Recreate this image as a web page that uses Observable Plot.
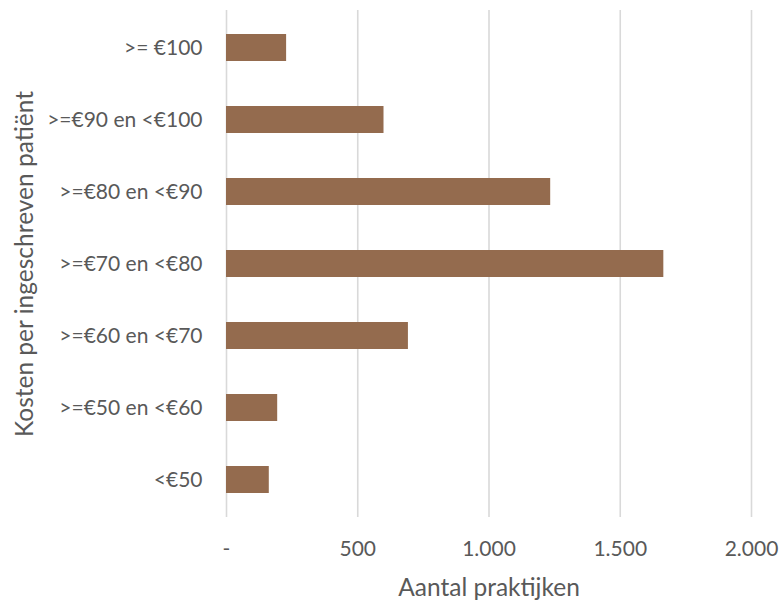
<!DOCTYPE html>
<html>
<head>
<meta charset="utf-8">
<script src="https://cdn.jsdelivr.net/npm/d3@7"></script>
<script src="https://cdn.jsdelivr.net/npm/@observablehq/plot@0.6"></script>
<style>
  html, body { margin: 0; padding: 0; background: #ffffff; }
  #chart { width: 780px; height: 600px; }
</style>
</head>
<body>
<div id="chart"></div>
<script>
const categories = [">= €100", ">=€90 en <€100", ">=€80 en <€90", ">=€70 en <€80", ">=€60 en <€70", ">=€50 en <€60", "<€50"];
const values = [229, 600, 1235, 1666, 693, 195, 163];
const xTicks = [0, 500, 1000, 1500, 2000];
const xTickLabels = ["-", "500", "1.000", "1.500", "2.000"];
const xTitle = "Aantal praktijken";
const yTitle = "Kosten per ingeschreven patiënt";

const data = categories.map((c, i) => ({category: c, value: values[i]}));

const chart = Plot.plot({
  width: 780,
  height: 600,
  marginLeft: 226,
  marginRight: 29,
  marginTop: 10,
  marginBottom: 83,
  style: {fontFamily: "Lato, sans-serif", fontSize: "21px", color: "#595959", background: "#ffffff"},
  x: {domain: [0, 2000]},
  y: {domain: categories, paddingInner: 0.62, paddingOuter: 0.31},
  marks: [
    Plot.gridX(xTicks, {stroke: "#d9d9d9", strokeOpacity: 1, strokeWidth: 1.6}),
    Plot.barX(data, {x: "value", y: "category", fill: "#946b4e"}),
    Plot.axisX({
      ticks: xTicks,
      tickFormat: d => xTickLabels[xTicks.indexOf(d)],
      tickSize: 0,
      tickPadding: 24,
      label: null
    }),
    Plot.axisY({
      tickSize: 0,
      tickPadding: 24,
      label: null
    }),
    Plot.text([xTitle], {
      text: d => d,
      frameAnchor: "bottom",
      textAnchor: "middle",
      lineAnchor: "middle",
      dy: 71,
      fontSize: 24.5,
      fill: "#595959"
    }),
    Plot.text([yTitle], {
      text: d => d,
      frameAnchor: "left",
      textAnchor: "middle",
      lineAnchor: "middle",
      rotate: -90,
      dx: -201,
      fontSize: 24.5,
      fill: "#595959"
    })
  ]
});
document.getElementById("chart").appendChild(chart);
</script>
</body>
</html>
